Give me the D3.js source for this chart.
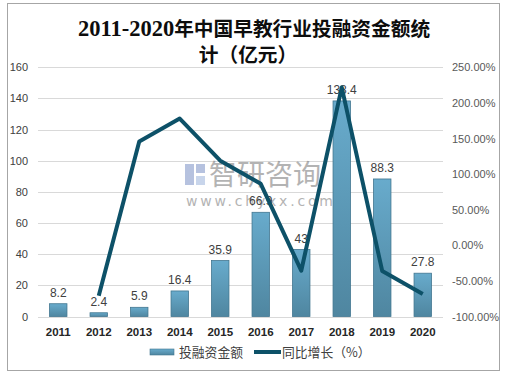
<!DOCTYPE html>
<html><head><meta charset="utf-8">
<script src="https://cdn.jsdelivr.net/npm/d3@7"></script>
<style>body{margin:0;background:#fff;}svg{display:block;}</style>
</head><body>
<svg id="c" width="505" height="374"></svg>
<script>
const years = ["2011","2012","2013","2014","2015","2016","2017","2018","2019","2020"];
const amounts = [8.2,2.4,5.9,16.4,35.9,66.9,43,138.4,88.3,27.8];
const amountLabels = ["8.2","2.4","5.9","16.4","35.9","66.9","43","138.4","88.3","27.8"];
const growth = [null,-70.7,145.8,178.0,118.9,86.4,-35.7,221.9,-36.2,-68.5];
const leftTicks = [0,20,40,60,80,100,120,140,160];
const rightTicks = [-100,-50,0,50,100,150,200,250];

const svg = d3.select("#c");
const defs = svg.append("defs");
const g1 = defs.append("linearGradient").attr("id","bg").attr("x1",0).attr("y1",0).attr("x2",0).attr("y2",1);
g1.append("stop").attr("offset","0%").attr("stop-color","#68abcc");
g1.append("stop").attr("offset","100%").attr("stop-color","#4f86a0");

svg.append("rect").attr("x",7.5).attr("y",3.5).attr("width",492).attr("height",367)
  .attr("fill","#fff").attr("stroke","#a6a6a6");

const x = d3.scaleBand().domain(years).range([38,443]).paddingInner(0.57).paddingOuter(0.285);
const yL = d3.scaleLinear().domain([0,160]).range([316.5,67.3]);
const yR = d3.scaleLinear().domain([-100,250]).range([316.5,67.3]);

// gridlines
svg.append("g").selectAll("line").data(leftTicks).join("line")
  .attr("x1",38).attr("x2",443).attr("y1",d=>Math.round(yL(d))+0.5).attr("y2",d=>Math.round(yL(d))+0.5)
  .attr("stroke","#d9d9d9").attr("stroke-width",1);

// left axis
const axL = svg.append("g").attr("transform","translate(38,0)")
  .call(d3.axisLeft(yL).tickValues(leftTicks).tickSize(0).tickPadding(10));
axL.select(".domain").remove();
axL.selectAll("text").attr("font-family","Liberation Sans, Arial, sans-serif").attr("font-size",11).attr("fill","#404040");

// right axis
const axR = svg.append("g").attr("transform","translate(443,0)")
  .call(d3.axisRight(yR).tickValues(rightTicks).tickSize(0).tickPadding(9).tickFormat(d=>d.toFixed(2)+"%"));
axR.select(".domain").remove();
axR.selectAll("text").attr("font-family","Liberation Sans, Arial, sans-serif").attr("font-size",11).attr("fill","#595959");

// bottom axis
const axB = svg.append("g").attr("transform","translate(0,316.5)")
  .call(d3.axisBottom(x).tickSize(0).tickPadding(11));
axB.select(".domain").remove();
axB.selectAll("text").attr("font-family","Liberation Sans, Arial, sans-serif").attr("font-size",11.5)
  .attr("font-weight","bold").attr("fill","#262626");

// watermark
const wm = svg.append("g").attr("opacity",0.5);
wm.append("rect").attr("x",185).attr("y",164).attr("width",9).attr("height",21).attr("fill","#6f86c0");
wm.append("rect").attr("x",196).attr("y",164).attr("width",9).attr("height",9).attr("fill","#6f86c0");
wm.append("rect").attr("x",196).attr("y",176).attr("width",9).attr("height",9).attr("fill","#93acd9");
wm.append("text").attr("x",209).attr("y",185).attr("font-family","Noto Sans CJK SC").attr("font-size",28)
  .attr("fill","#6a6a6a").text("智研咨询");
wm.append("text").attr("x",186).attr("y",206).attr("font-family","DejaVu Sans, sans-serif").attr("font-size",14)
  .attr("letter-spacing",2.8).attr("fill","#6a6a6a").text("www.chyxx.com");

// bars
svg.append("g").selectAll("rect").data(years).join("rect")
  .attr("x",d=>x(d)).attr("width",x.bandwidth())
  .attr("y",(d,i)=>yL(amounts[i])).attr("height",(d,i)=>yL(0)-yL(amounts[i]))
  .attr("fill","url(#bg)").attr("stroke","#41768f").attr("stroke-width",0.8);

// bar labels
svg.append("g").selectAll("text").data(years).join("text")
  .attr("x",d=>x(d)+x.bandwidth()/2).attr("y",(d,i)=>yL(amounts[i])-7)
  .attr("text-anchor","middle").attr("font-family","Liberation Sans, Arial, sans-serif")
  .attr("font-size",12).attr("fill","#404040").text((d,i)=>amountLabels[i]);

// line
const pts = years.map((d,i)=>[x(d)+x.bandwidth()/2, growth[i]]).filter(p=>p[1]!==null);
svg.append("path").datum(pts)
  .attr("d",d3.line().x(p=>p[0]).y(p=>yR(p[1])))
  .attr("fill","none").attr("stroke","#0d5168").attr("stroke-width",4).attr("stroke-linejoin","round");

// title
const title = svg.append("text").attr("text-anchor","middle").attr("font-family","Liberation Serif, Noto Sans CJK SC, serif")
  .attr("font-weight","bold").attr("fill","#0d0d0d");
const t1 = title.append("tspan").attr("x",254).attr("y",36);
t1.append("tspan").attr("font-size",22.5).text("2011-2020");
t1.append("tspan").attr("font-size",19.7).text("年中国早教行业投融资金额统");
title.append("tspan").attr("x",248).attr("y",62).attr("font-size",19.7).text("计（亿元）");

// legend
const lg = svg.append("g");
lg.append("rect").attr("x",150).attr("y",349).attr("width",24).attr("height",6).attr("fill","url(#bg)").attr("stroke","#41768f").attr("stroke-width",0.6);
lg.append("text").attr("x",179).attr("y",357).attr("font-family","Noto Sans CJK SC").attr("font-size",12.8).attr("fill","#404040").text("投融资金额");
lg.append("line").attr("x1",254).attr("x2",281).attr("y1",352).attr("y2",352).attr("stroke","#0d5168").attr("stroke-width",4);
lg.append("text").attr("x",282).attr("y",357).attr("font-family","Noto Sans CJK SC").attr("font-size",12.8).attr("fill","#404040").text("同比增长（%）");
</script>
</body></html>
